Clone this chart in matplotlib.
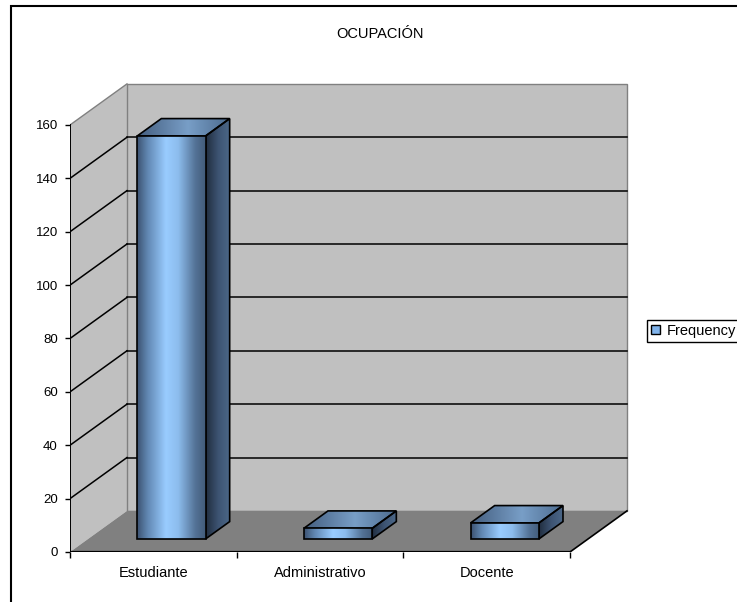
import numpy as np
import matplotlib
matplotlib.use("Agg")
import matplotlib.pyplot as plt
from matplotlib.patches import Polygon, Rectangle, Patch

plt.rcParams['font.family'] = ['Liberation Sans', 'DejaVu Sans']

title = "OCUPACIÓN"
categories = ["Estudiante", "Administrativo", "Docente"]
frequency = [151, 4, 6]
yticks = [0, 20, 40, 60, 80, 100, 120, 140, 160]
series_name = "Frequency"

# oblique depth of the 3-D box (category units, value units)
DX, DY = 0.342, 15.4
Z0, Z1 = 0.317, 0.74      # bar front / back, as fractions of the depth
BAR_W = 0.41
YMAX = 160
FS_TICK = 9.5
FS = 10.5

WALL = "#c0c0c0"
FLOOR = "#808080"
EDGE_GRAY = "#808080"

front_stops = [(0.0, (0.24, 0.33, 0.45)), (0.15, (0.38, 0.53, 0.70)),
               (0.42, (0.60, 0.80, 1.00)), (0.60, (0.55, 0.74, 0.93)),
               (0.85, (0.33, 0.45, 0.59)), (1.0, (0.26, 0.36, 0.48))]
side_stops = [(0.0, (0.13, 0.18, 0.25)), (0.5, (0.24, 0.33, 0.45)),
              (1.0, (0.30, 0.41, 0.54))]
top_stops = [(0.0, (0.27, 0.37, 0.50)), (0.55, (0.47, 0.62, 0.78)),
             (1.0, (0.30, 0.42, 0.56))]


def gradient(stops, n=64):
    t = np.linspace(0, 1, n)
    pos = [s[0] for s in stops]
    rgb = [np.interp(t, pos, [s[1][k] for s in stops]) for k in range(3)]
    return np.dstack(rgb)


def shaded_face(ax, pts, stops, z):
    poly = Polygon(pts, closed=True, facecolor="none", edgecolor="black",
                   lw=1.2, zorder=z + 0.1, joinstyle="miter")
    ax.add_patch(poly)
    xs = [p[0] for p in pts]
    ys = [p[1] for p in pts]
    im = ax.imshow(gradient(stops), extent=[min(xs), max(xs), min(ys), max(ys)],
                   aspect="auto", interpolation="bilinear", zorder=z, origin="lower")
    im.set_clip_path(poly)


fig = plt.figure(figsize=(7.37, 6.02), dpi=100)
ax = fig.add_axes([70 / 737, 50 / 602, 583.3 / 737, 480.4 / 602])
n = len(categories)

# walls and floor
ax.add_patch(Polygon([(0, 0), (DX, DY), (DX, YMAX + DY), (0, YMAX)],
                     facecolor=WALL, edgecolor="none", zorder=0.5))
ax.add_patch(Rectangle((DX, DY), n, YMAX, facecolor=WALL,
                       edgecolor=EDGE_GRAY, lw=1.0, zorder=0.5))
ax.add_patch(Polygon([(0, 0), (n, 0), (n + DX, DY), (DX, DY)],
                     facecolor=FLOOR, edgecolor="none", zorder=0.6))
ax.plot([0, DX], [YMAX, YMAX + DY], color=EDGE_GRAY, lw=1.0, zorder=0.7)
ax.plot([n, n + DX], [0, DY], color="black", lw=1.2, zorder=0.7)

# gridlines on the side and back walls
for v in yticks[1:-1]:
    ax.plot([0, DX], [v, v + DY], color="black", lw=1.1, zorder=1)
    ax.plot([DX, n + DX], [v + DY, v + DY], color="black", lw=1.1, zorder=1)

# front axis lines
ax.plot([0, 0], [0, YMAX], color="black", lw=1.4, zorder=2)
ax.plot([0, n], [0, 0], color="black", lw=1.6, zorder=2)

# bars
ox, oy = (Z1 - Z0) * DX, (Z1 - Z0) * DY
for i, v in enumerate(frequency):
    x0 = i + 0.5 - BAR_W / 2 + Z0 * DX
    x1 = x0 + BAR_W
    y0 = Z0 * DY
    y1 = v + Z0 * DY
    z = 3 + i
    shaded_face(ax, [(x1, y0), (x1 + ox, y0 + oy), (x1 + ox, y1 + oy), (x1, y1)],
                side_stops, z)
    shaded_face(ax, [(x0, y1), (x1, y1), (x1 + ox, y1 + oy), (x0 + ox, y1 + oy)],
                top_stops, z)
    shaded_face(ax, [(x0, y0), (x1, y0), (x1, y1), (x0, y1)], front_stops, z + 0.2)

ax.set_xlim(0, 3.5)
ax.set_ylim(0, 180)
for s in ax.spines.values():
    s.set_visible(False)

ax.set_yticks(yticks)
ax.tick_params(axis="y", direction="out", length=3.8, width=1, pad=5,
               labelsize=FS_TICK, colors="black")
ax.set_xticks(range(n + 1))
ax.set_xticklabels([])
ax.set_xticks([i + 0.5 for i in range(n)], minor=True)
ax.set_xticklabels(categories, minor=True)
ax.tick_params(axis="x", which="major", direction="out", length=4.5, width=1)
ax.tick_params(axis="x", which="minor", length=0, pad=10, labelsize=FS)

fig.text(380 / 737, 1 - 34 / 602, title, ha="center", va="center", fontsize=FS)

handle = Patch(facecolor=(0.50, 0.70, 0.92), edgecolor="black", lw=1.0)
leg = fig.legend(handles=[handle], labels=[series_name], loc="center left",
                 bbox_to_anchor=(647 / 737, 1 - 331 / 602),
                 bbox_transform=fig.transFigure, fancybox=False, framealpha=1,
                 edgecolor="black", fontsize=FS, handlelength=0.6,
                 handleheight=0.6, handletextpad=0.45, borderpad=0.3,
                 borderaxespad=0)
leg.get_frame().set_linewidth(1.0)

# chart border (right and bottom edges fall outside the image)
fig.add_artist(Rectangle((11 / 737, -0.1), 1.2, 1.1 - 6 / 602, fill=False,
                         edgecolor="black", lw=1.5, transform=fig.transFigure))

fig.savefig("out.png", dpi=100)
